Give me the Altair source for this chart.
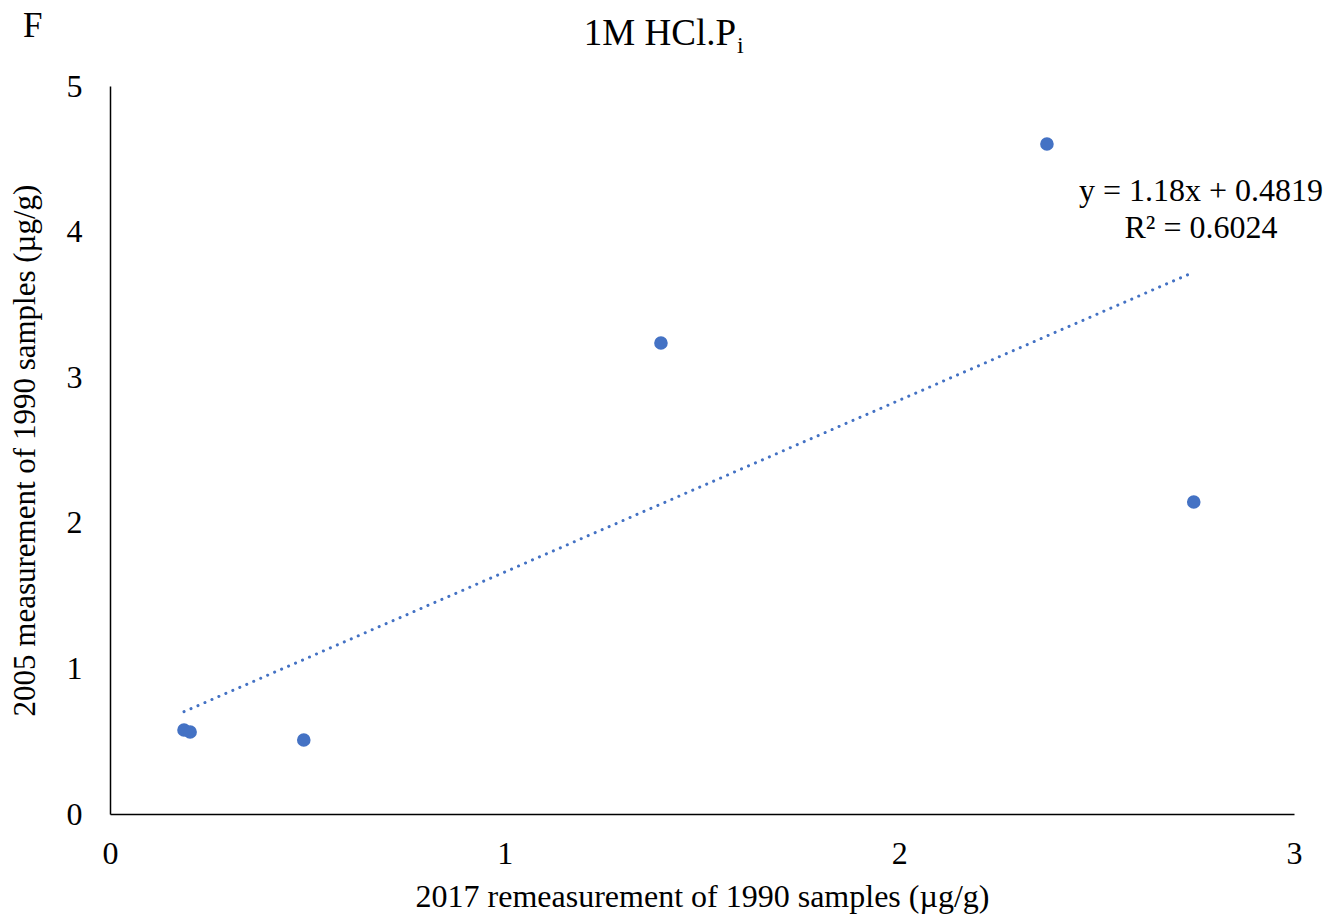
import altair as alt
import pandas as pd

# Data
x_vals = [0.1875, 0.203, 0.491, 1.396, 2.374, 2.746]
y_vals = [0.577, 0.563, 0.508, 3.235, 4.602, 2.143]

trend_x = [0.1875, 2.746]
trend_y = [0.703, 3.722]

x_ticks = [0, 1, 2, 3]
y_ticks = [0, 1, 2, 3, 4, 5]

FONT = "Liberation Serif"
BLUE = "#4472C4"

pts = pd.DataFrame({"x": x_vals, "y": y_vals})
trend = pd.DataFrame({"x": trend_x, "y": trend_y})

xscale = alt.Scale(domain=[0, 3], nice=False, zero=False)
yscale = alt.Scale(domain=[0, 5], nice=False, zero=False)

xaxis = alt.Axis(values=x_ticks, format="d", title="2017 remeasurement of 1990 samples (µg/g)",
                 grid=False, ticks=False, domainColor="black", domainWidth=1.5,
                 labelFlush=False, labelOverlap=False,
                 labelFont=FONT, labelFontSize=32, labelColor="black", labelPadding=24,
                 titleFont=FONT, titleFontSize=32, titleColor="black", titleFontWeight="normal",
                 titlePadding=12)
yaxis = alt.Axis(values=y_ticks, format="d", title="2005 measurement of 1990 samples (µg/g)",
                 grid=False, ticks=False, domainColor="black", domainWidth=1.5,
                 labelFlush=False, labelOverlap=False,
                 labelFont=FONT, labelFontSize=32, labelColor="black", labelPadding=28,
                 titleFont=FONT, titleFontSize=31, titleColor="black", titleFontWeight="normal",
                 titlePadding=25)

points = alt.Chart(pts).mark_circle(size=185, color=BLUE, opacity=1).encode(
    x=alt.X("x:Q", scale=xscale, axis=xaxis),
    y=alt.Y("y:Q", scale=yscale, axis=yaxis),
)

line = alt.Chart(trend).mark_line(color=BLUE, strokeWidth=3, strokeDash=[0.1, 7.5],
                                  strokeCap="round").encode(
    x=alt.X("x:Q", scale=xscale),
    y=alt.Y("y:Q", scale=yscale),
)

eq1 = alt.Chart(pd.DataFrame({"t": ["y = 1.18x + 0.4819"]})).mark_text(
    font=FONT, fontSize=32, color="black", align="center", baseline="alphabetic"
).encode(x=alt.value(1091), y=alt.value(115), text="t:N")
eq2 = alt.Chart(pd.DataFrame({"t": ["R² = 0.6024"]})).mark_text(
    font=FONT, fontSize=32, color="black", align="center", baseline="alphabetic"
).encode(x=alt.value(1091), y=alt.value(152), text="t:N")

title_main = alt.Chart(pd.DataFrame({"t": ["1M HCl.P"]})).mark_text(
    font=FONT, fontSize=37, color="black", align="right", baseline="alphabetic"
).encode(x=alt.value(626), y=alt.value(-41), text="t:N")
title_sub = alt.Chart(pd.DataFrame({"t": ["i"]})).mark_text(
    font=FONT, fontSize=24, color="black", align="left", baseline="alphabetic"
).encode(x=alt.value(627), y=alt.value(-33), text="t:N")
panel = alt.Chart(pd.DataFrame({"t": ["F"]})).mark_text(
    font=FONT, fontSize=35, color="black", align="left", baseline="alphabetic"
).encode(x=alt.value(-87), y=alt.value(-49), text="t:N")

chart = alt.layer(line, points, eq1, eq2, title_main, title_sub, panel).properties(
    width=1184, height=728,
    background="white",
    autosize=alt.AutoSizeParams(type="none"),
    padding={"left": 110, "top": 86, "right": 35, "bottom": 105},
).configure_view(stroke=None)

chart.save("out.html", embed_options={"renderer": "svg", "actions": False})
